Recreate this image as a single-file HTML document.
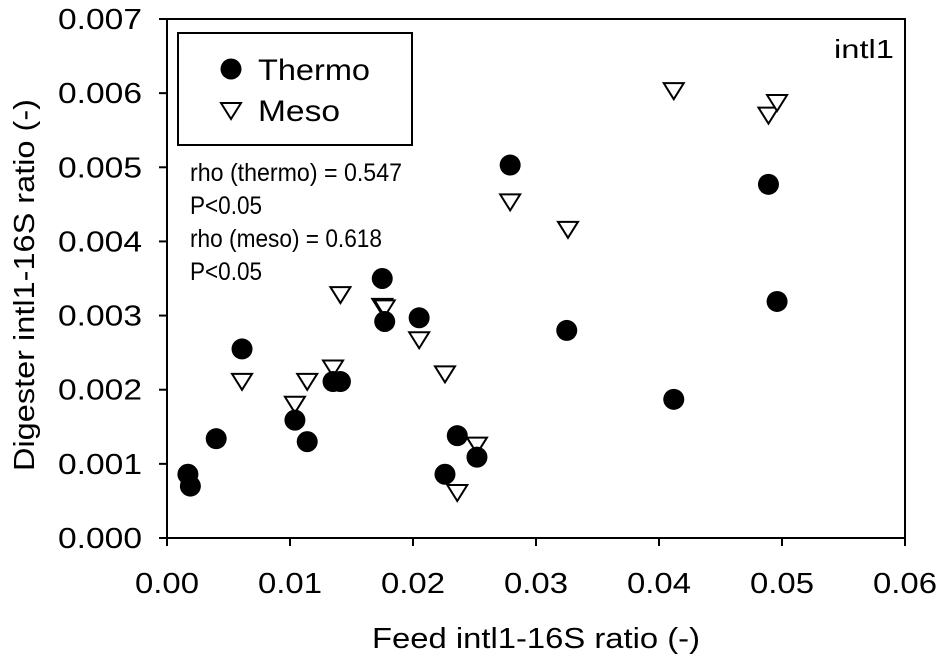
<!DOCTYPE html>
<html><head><meta charset="utf-8"><style>
body{margin:0;background:#fff}
svg text{font-family:"Liberation Sans",Arial,sans-serif;fill:#000}
</style></head><body>
<svg width="945" height="662" viewBox="0 0 945 662">
<g id="plot"></g>
</svg>
<script>
const xTicks=["0.00","0.01","0.02","0.03","0.04","0.05","0.06"];
const yTicks=["0.000","0.001","0.002","0.003","0.004","0.005","0.006","0.007"];
const thermoX=[0.0017,0.0019,0.0040,0.0061,0.0104,0.0114,0.0135,0.0141,0.0175,0.0177,0.0205,0.0226,0.0236,0.0252,0.0279,0.0325,0.0412,0.0489,0.0496];
const thermoY=[0.00086,0.00070,0.00134,0.00255,0.00159,0.00130,0.00211,0.00211,0.00350,0.00292,0.00297,0.00086,0.00138,0.00109,0.00503,0.00280,0.00187,0.00477,0.00319];
const mesoX=[0.0061,0.0104,0.0114,0.0135,0.0141,0.0175,0.0177,0.0205,0.0226,0.0236,0.0252,0.0279,0.0326,0.0412,0.0489,0.0496];
const mesoY=[0.00212,0.00181,0.00212,0.00230,0.00329,0.00313,0.00311,0.00268,0.00222,0.00062,0.00126,0.00454,0.00417,0.00604,0.00571,0.00588];
const L=167,R=905,T=19,B=538;
const xs=v=>L+(v/0.06)*(R-L);
const ys=v=>B-(v/0.007)*(B-T);
const NS="http://www.w3.org/2000/svg";
const g=document.getElementById('plot');
function mk(tag,attrs,txt){const e=document.createElementNS(NS,tag);for(const k in attrs)e.setAttribute(k,attrs[k]);if(txt!==undefined)e.textContent=txt;g.appendChild(e);return e;}
let e;
e=mk('rect',{x:L,y:T,width:R-L,height:B-T,fill:'none',stroke:'#000','stroke-width':2});


xTicks.forEach((t,i)=>{const x=xs(parseFloat(t));
 e=mk('line',{x1:x,y1:B,x2:x,y2:B+8,stroke:'#000','stroke-width':2});
 
 
 e=mk('text',{x:x,y:593,'font-size':29,'text-anchor':'middle',textLength:64,lengthAdjust:'spacingAndGlyphs'},t);
 
 
});
yTicks.forEach((t,i)=>{const y=ys(parseFloat(t));
 e=mk('line',{x1:L-8,y1:y,x2:L,y2:y,stroke:'#000','stroke-width':2});
 
 
 e=mk('text',{x:L-25,y:y+10,'font-size':29,'text-anchor':'end',textLength:84,lengthAdjust:'spacingAndGlyphs'},t);
 
 
});
e=mk('text',{x:536,y:648,'font-size':29,'text-anchor':'middle',textLength:328,lengthAdjust:'spacingAndGlyphs'},'Feed intl1-16S ratio (-)');


e=mk('text',{x:0,y:0,'font-size':29,'text-anchor':'middle',textLength:372,lengthAdjust:'spacingAndGlyphs',transform:'translate(34,285) rotate(-90)'},'Digester intl1-16S ratio (-)');


function tri(cx,cy){const s=10;return `${cx-s},${cy-7} ${cx+s},${cy-7} ${cx},${cy+9}`;}
mesoX.forEach((v,i)=>{
 e=mk('polygon',{points:tri(xs(v),ys(mesoY[i])),fill:'#fff',stroke:'#000','stroke-width':2});
 
 
});
thermoX.forEach((v,i)=>{
 e=mk('circle',{cx:xs(v),cy:ys(thermoY[i]),r:10.5,fill:'#000'});
 
 
});
e=mk('rect',{x:178,y:33,width:234,height:112,fill:'#fff',stroke:'#000','stroke-width':2});


e=mk('circle',{cx:231,cy:69,r:10.5,fill:'#000'});


e=mk('text',{x:258,y:80,'font-size':30,textLength:112,lengthAdjust:'spacingAndGlyphs'},'Thermo');


e=mk('polygon',{points:tri(231,110),fill:'#fff',stroke:'#000','stroke-width':2});


e=mk('text',{x:258,y:121,'font-size':30,textLength:82,lengthAdjust:'spacingAndGlyphs'},'Meso');


const ann=['rho (thermo) = 0.547','P<0.05','rho (meso) = 0.618','P<0.05'];
const annW=[212,72,192,72];
ann.forEach((t,i)=>{
 e=mk('text',{x:190,y:181+i*33,'font-size':25,textLength:annW[i],lengthAdjust:'spacingAndGlyphs'},t);
 
 
});
e=mk('text',{x:894,y:58,'font-size':26,'text-anchor':'end',textLength:60,lengthAdjust:'spacingAndGlyphs'},'intl1');


</script>
</body></html>
